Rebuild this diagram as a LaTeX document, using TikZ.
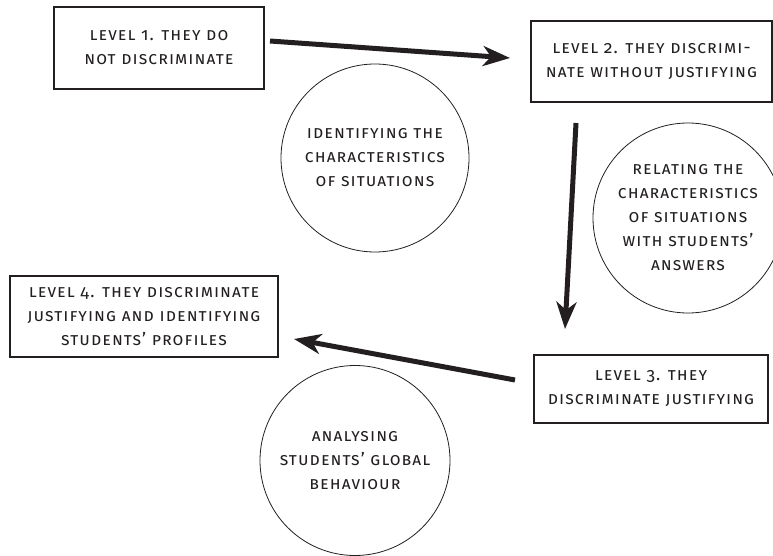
\documentclass[tikz,border=0pt]{standalone}
\usepackage{fontspec}
\setmainfont{Fira Sans}[Numbers=OldStyle, LetterSpace=6]
\usetikzlibrary{arrows.meta}
\definecolor{ink}{HTML}{231F20}
\begin{document}
\begin{tikzpicture}[x=1pt,y=-1pt,
  lvl/.style={draw=ink, text=ink, line width=1.1pt, align=center, inner sep=0pt,
    font=\fontsize{17.5}{24}\selectfont\scshape},
  act/.style={draw=ink, text=ink, line width=0.8pt, circle, align=center, inner sep=0pt,
    font=\fontsize{17.5}{24}\selectfont\scshape},
  flow/.style={draw=ink, line width=5pt, -{Stealth[length=27pt,width=20pt,inset=8pt]}}]
\useasboundingbox (0,0) rectangle (773,556);
\clip (0,0) rectangle (773,556);
\node[lvl, minimum width=210pt, minimum height=82pt] (b1) at (159,48) {level 1. they do\\not discriminate};
\node[lvl, minimum width=241pt, minimum height=81pt] (b2) at (651.5,61.5) {level 2. they discrimi-\\nate without justifying};
\node[lvl, minimum width=234pt, minimum height=68pt] (b3) at (651,389) {level 3. they\\discriminate justifying};
\node[lvl, minimum width=268pt, minimum height=81pt] (b4) at (144,316.5) {level 4. they discriminate\\justifying and identifying\\students’ profiles};
\node[act, minimum size=188pt] (c1) at (375,158) {identifying the\\characteristics\\of situations};
\node[act, minimum size=190pt] (c2) at (688,218) {relating the\\characteristics\\of situations\\with students’\\answers};
\node[act, minimum size=190pt] (c3) at (355,460.5) {analysing\\students’ global\\behaviour};
\coordinate (a1s) at (270,41);
\coordinate (a1e) at (510,58);
\coordinate (a2s) at (576,123);
\coordinate (a2e) at (565,329);
\coordinate (a3s) at (515,380);
\coordinate (a3e) at (294,339);
\draw[flow] (a1s) -- (a1e);
\draw[flow] (a2s) -- (a2e);
\draw[flow] (a3s) -- (a3e);
\end{tikzpicture}
\end{document}
